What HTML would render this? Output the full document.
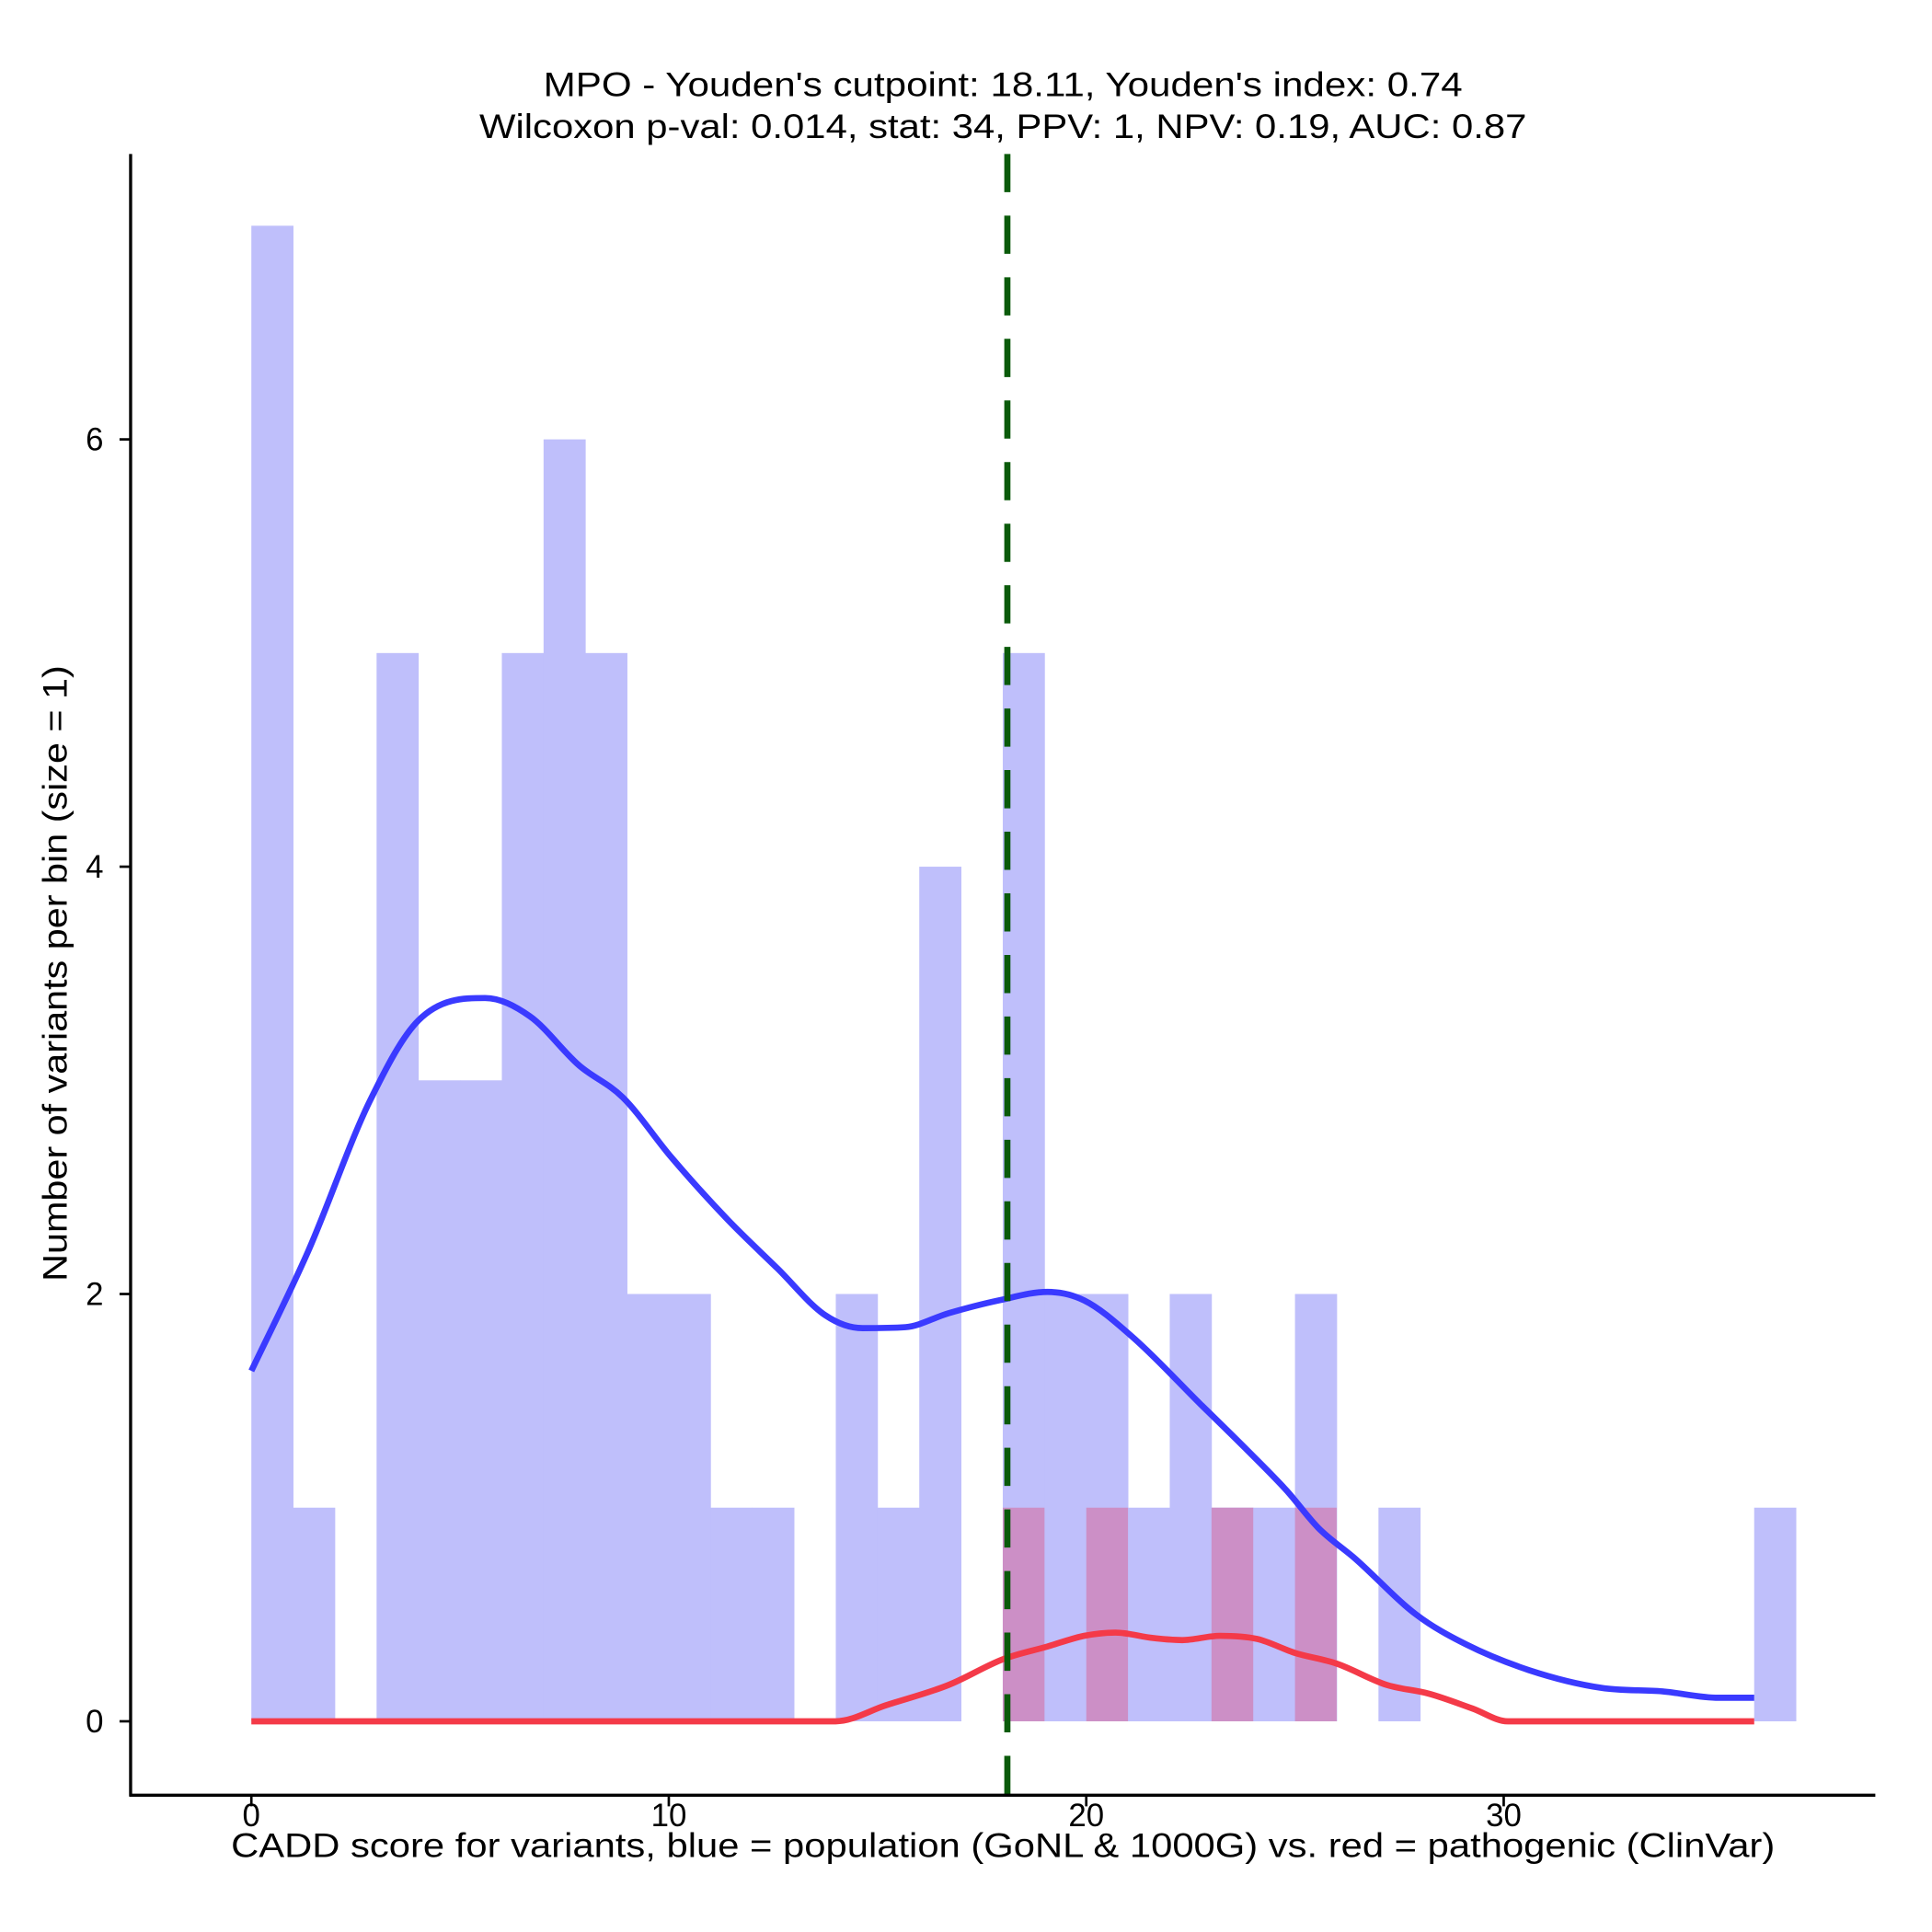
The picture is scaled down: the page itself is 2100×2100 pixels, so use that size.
<!DOCTYPE html>
<html><head><meta charset="utf-8"><style>
html,body{margin:0;padding:0;background:#fff;}
svg{display:block;font-family:"Liberation Sans",Arial,sans-serif;}
</style></head><body>
<svg id="chart" width="2100" height="2100" viewBox="0 0 1568 1568" xmlns="http://www.w3.org/2000/svg">
<text x="814" y="78" font-size="28" text-anchor="middle" textLength="746" lengthAdjust="spacingAndGlyphs">MPO - Youden's cutpoint: 18.11, Youden's index: 0.74</text>
<text x="814" y="112" font-size="28" text-anchor="middle" textLength="850" lengthAdjust="spacingAndGlyphs">Wilcoxon p-val: 0.014, stat: 34, PPV: 1, NPV: 0.19, AUC: 0.87</text>
<g id="bars"></g>
<g id="curves"></g>
<g id="axes"></g>
<text x="814" y="1507" font-size="28" text-anchor="middle" textLength="1253" lengthAdjust="spacingAndGlyphs">CADD score for variants, blue = population (GoNL &amp; 1000G) vs. red = pathogenic (ClinVar)</text>
<text transform="translate(54,790) rotate(-90)" font-size="28" text-anchor="middle" textLength="500" lengthAdjust="spacingAndGlyphs">Number of variants per bin (size = 1)</text>
</svg>
<script>
const blueCounts=[7,1,0,5,3,3,5,6,5,2,2,1,1,0,2,1,4,0,5,2,2,1,2,1,1,2,0,1,0,0,0,0,0,0,0,0,1];
const redBins=[18,20,23,25];
const redCounts=[1,1,1,1];
const blueDensX=[0,1.36,2.83,4.0,5.6,6.67,7.85,8.9,10.06,11.4,12.6,13.75,14.64,15.67,16.7,17.9,19.07,19.95,21.1,22.76,23.8,24.8,25.56,26.45,27.9,29.1,30.6,32.35,33.8,35.15,36];
const blueDensY=[1.64,2.2,2.9,3.28,3.385,3.3,3.07,2.92,2.64,2.35,2.12,1.9,1.84,1.845,1.91,1.97,2.01,1.97,1.8,1.48,1.28,1.08,0.905,0.76,0.5,0.36,0.24,0.156,0.14,0.11,0.11];
const redDensX=[0,14,15.2,16.7,18.0,19.07,19.95,20.7,21.6,22.3,23.2,24.1,25.0,26.0,27.2,28.2,29.25,30.1,36];
const redDensY=[0,0,0.075,0.17,0.29,0.35,0.4,0.415,0.39,0.38,0.4,0.385,0.32,0.27,0.17,0.13,0.06,0,0];
const xTicks=[0,10,20,30];
const yTicks=[0,2,4,6];
const cutpoint=18.11;
const NS='http://www.w3.org/2000/svg';
const sx=v=>204+v*33.88;
const sy=v=>1397-v*173.4;
function mk(tag,attrs,parent){const e=document.createElementNS(NS,tag);for(const k in attrs)e.setAttribute(k,attrs[k]);parent.appendChild(e);return e;}
const bars=document.getElementById('bars'),curves=document.getElementById('curves'),axes=document.getElementById('axes');
blueCounts.forEach((c,i)=>{if(!c)return;
 const r=mk('rect',{x:sx(i),y:sy(c),width:sx(i+1)-sx(i)+0.3,height:sy(0)-sy(c),fill:'#bfbffb'},bars);
 
 });
redBins.forEach((b,i)=>{const c=redCounts[i];
 const r=mk('rect',{x:sx(b),y:sy(c),width:sx(b+1)-sx(b),height:sy(0)-sy(c),fill:'#cc8fc6'},bars);
 
 });
function path(xs,ys){
 const n=xs.length,d=[],m=[];
 for(let i=0;i<n-1;i++)d.push((ys[i+1]-ys[i])/(xs[i+1]-xs[i]));
 m[0]=d[0];m[n-1]=d[n-2];
 for(let i=1;i<n-1;i++)m[i]=(d[i-1]*d[i]<=0)?0:(d[i-1]+d[i])/2;
 for(let i=0;i<n-1;i++){if(d[i]===0){m[i]=0;m[i+1]=0;continue;}
  const a=m[i]/d[i],b=m[i+1]/d[i],s=a*a+b*b;if(s>9){const t=3/Math.sqrt(s);m[i]=t*a*d[i];m[i+1]=t*b*d[i];}}
 let p='M'+sx(xs[0]).toFixed(1)+','+sy(ys[0]).toFixed(1);
 for(let i=0;i<n-1;i++){const h=xs[i+1]-xs[i];
  p+='C'+sx(xs[i]+h/3).toFixed(1)+','+sy(ys[i]+m[i]*h/3).toFixed(1)+' '+sx(xs[i+1]-h/3).toFixed(1)+','+sy(ys[i+1]-m[i+1]*h/3).toFixed(1)+' '+sx(xs[i+1]).toFixed(1)+','+sy(ys[i+1]).toFixed(1);}
 return p;}
const bl=mk('path',{d:path(blueDensX,blueDensY),fill:'none',stroke:'#3a3aff','stroke-width':5,'stroke-linejoin':'round'},curves);


const rl=mk('path',{d:path(redDensX,redDensY),fill:'none',stroke:'#f43a48','stroke-width':5,'stroke-linejoin':'round'},curves);


const cl=mk('line',{x1:sx(cutpoint),x2:sx(cutpoint),y1:125,y2:1457,stroke:'#0a5a0a','stroke-width':5,'stroke-dasharray':'31,19'},curves);


mk('line',{x1:106,x2:106,y1:125,y2:1458,stroke:'#000','stroke-width':2.5},axes);
mk('line',{x1:105,x2:1522,y1:1457,y2:1457,stroke:'#000','stroke-width':2.5},axes);
xTicks.forEach(t=>{mk('line',{x1:sx(t),x2:sx(t),y1:1457,y2:1466,stroke:'#000','stroke-width':2},axes);
 const tx=mk('text',{x:sx(t),y:1482,'font-size':26,'text-anchor':'middle'},axes);tx.textContent=t;
 
 });
yTicks.forEach(t=>{mk('line',{x1:97,x2:106,y1:sy(t),y2:sy(t),stroke:'#000','stroke-width':2},axes);
 const tx=mk('text',{x:84,y:sy(t)+9,'font-size':26,'text-anchor':'end'},axes);tx.textContent=t;
 
 });
</script>
</body></html>
